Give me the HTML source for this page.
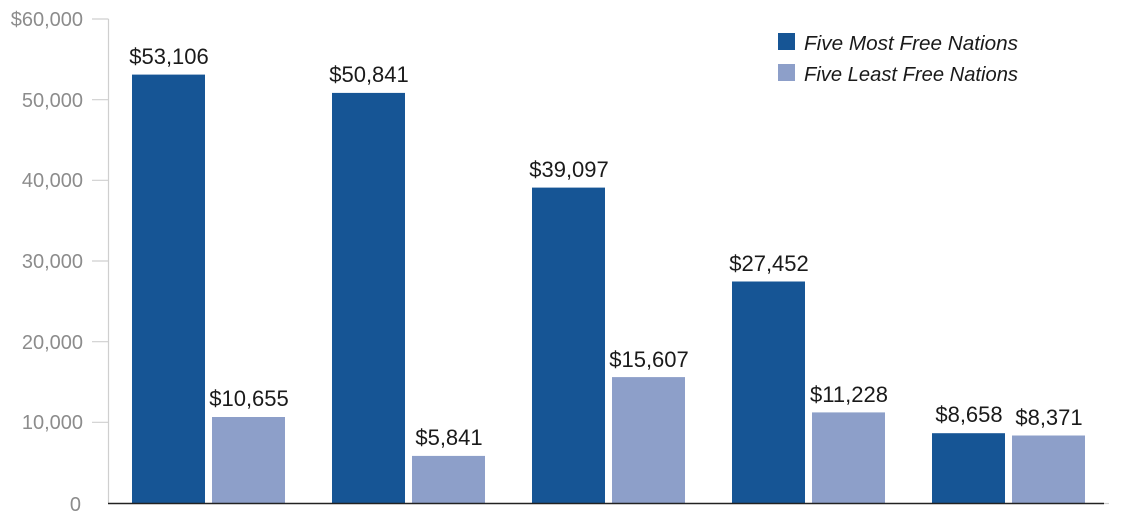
<!DOCTYPE html>
<html><head><meta charset="utf-8"><style>
html,body{margin:0;padding:0;background:#fff;}
svg{display:block;font-family:"Liberation Sans",sans-serif;}
</style></head><body>
<svg width="1131" height="516" viewBox="0 0 1131 516" xmlns="http://www.w3.org/2000/svg">
<g stroke="#cfcfcf" stroke-width="1.2">
<line x1="108.5" y1="19" x2="108.5" y2="503"/>
<line x1="92" y1="19" x2="108.5" y2="19"/>
<line x1="92" y1="99.7" x2="108.5" y2="99.7"/>
<line x1="92" y1="180.3" x2="108.5" y2="180.3"/>
<line x1="92" y1="261" x2="108.5" y2="261"/>
<line x1="92" y1="341.7" x2="108.5" y2="341.7"/>
<line x1="92" y1="422.3" x2="108.5" y2="422.3"/>
<line x1="1100" y1="503.5" x2="1109" y2="503.5"/>
</g>
<g fill="#8c8c8c" font-size="20" text-anchor="end">
<text x="83" y="26">$60,000</text>
<text x="83" y="107">50,000</text>
<text x="83" y="187">40,000</text>
<text x="83" y="268">30,000</text>
<text x="83" y="349">20,000</text>
<text x="83" y="429">10,000</text>
<text x="81" y="511">0</text>
</g>
<g fill="#165595">
<rect x="132" y="74.6" width="73" height="428.4"/>
<rect x="332" y="92.9" width="73" height="410.1"/>
<rect x="532" y="187.6" width="73" height="315.4"/>
<rect x="732" y="281.5" width="73" height="221.5"/>
<rect x="932" y="433.2" width="73" height="69.8"/>
</g>
<g fill="#8d9fc9">
<rect x="212" y="417" width="73" height="86"/>
<rect x="412" y="455.9" width="73" height="47.1"/>
<rect x="612" y="377.1" width="73" height="125.9"/>
<rect x="812" y="412.4" width="73" height="90.6"/>
<rect x="1012" y="435.5" width="73" height="67.5"/>
</g>
<line x1="108" y1="503.5" x2="1104" y2="503.5" stroke="#222" stroke-width="1.5"/>
<g fill="#1a1a1a" font-size="22" text-anchor="middle">
<text x="169" y="64">$53,106</text>
<text x="249" y="406">$10,655</text>
<text x="369" y="82">$50,841</text>
<text x="449" y="445">$5,841</text>
<text x="569" y="177">$39,097</text>
<text x="649" y="367">$15,607</text>
<text x="769" y="271">$27,452</text>
<text x="849" y="402">$11,228</text>
<text x="969" y="422">$8,658</text>
<text x="1049" y="425">$8,371</text>
</g>
<rect x="778" y="33" width="17" height="17" fill="#165595"/>
<rect x="778" y="64" width="17" height="17" fill="#8d9fc9"/>
<g fill="#1a1a1a" font-size="20" font-style="italic">
<text x="804" y="50" textLength="214" lengthAdjust="spacingAndGlyphs">Five Most Free Nations</text>
<text x="804" y="81" textLength="214" lengthAdjust="spacingAndGlyphs">Five Least Free Nations</text>
</g>
</svg>
</body></html>
